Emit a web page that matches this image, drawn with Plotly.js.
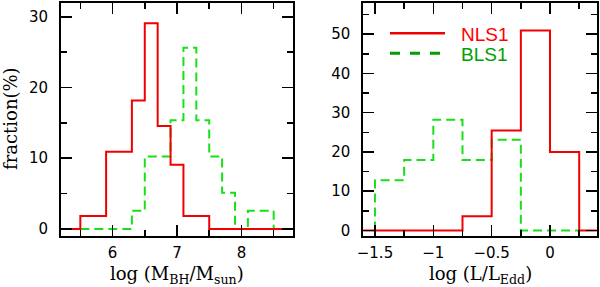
<!DOCTYPE html>
<html>
<head>
<meta charset="utf-8">
<script src="https://cdn.plot.ly/plotly-3.0.1.min.js"></script>
<style>html,body{margin:0;padding:0;background:#fff;}#chart{width:600px;height:287px;}</style>
</head>
<body>
<div id="chart"></div>
<script>
// ---- Data (fraction in %) ----
// Left panel: log(M_BH/M_sun) histograms, bin left edges (last = closing edge)
const massNLS_x = [5.1, 5.5, 5.7, 5.9, 6.1, 6.3, 6.5, 6.7, 6.9, 7.1, 7.3, 7.5, 8.9];
const massNLS_y = [0, 1.82, 1.82, 10.91, 10.91, 18.18, 29.09, 14.55, 9.09, 1.82, 1.82, 0, 0];
const massBLS_x = [5.5, 6.3, 6.5, 6.7, 6.9, 7.1, 7.3, 7.5, 7.7, 7.9, 8.1, 8.3, 8.5];
const massBLS_y = [0, 2.56, 10.26, 10.26, 15.38, 25.64, 15.38, 10.26, 5.13, 0, 2.56, 2.56, 0];
// Right panel: log(L/L_Edd) histograms
const eddNLS_x = [-1.75, -0.75, -0.5, -0.25, 0, 0.25, 0.5];
const eddNLS_y = [0, 3.64, 25.45, 50.91, 20.0, 0, 0];
const eddBLS_x = [-1.5, -1.5, -1.25, -1.0, -0.75, -0.5, -0.25, 0.25];
const eddBLS_y = [0, 12.82, 17.95, 28.21, 17.95, 23.08, 0, 0];

const seriesNames = ['NLS1', 'BLS1'];
const massTicks = [6, 7, 8];
const massTickText = ['6', '7', '8'];
const fracTicksL = [0, 10, 20, 30];
const eddTicks = [-1.5, -1, -0.5, 0];
const eddTickText = ['\u22121.5', '\u22121', '\u22120.5', '0'];
const fracTicksR = [0, 10, 20, 30, 40, 50];

const RED = '#f00000', GREEN = '#18e018';
const LEG_GREEN = '#00a000';

const greenLine = {color: GREEN, width: 2, shape: 'hv', dash: '9px,5px'};
const redLine = {color: RED, width: 2, shape: 'hv'};

const traces = [
  {x: massBLS_x, y: massBLS_y, xaxis: 'x', yaxis: 'y', mode: 'lines', line: greenLine, name: seriesNames[1], showlegend: false},
  {x: massNLS_x, y: massNLS_y, xaxis: 'x', yaxis: 'y', mode: 'lines', line: redLine, name: seriesNames[0], showlegend: false},
  {x: eddBLS_x, y: eddBLS_y, xaxis: 'x2', yaxis: 'y2', mode: 'lines', line: greenLine, name: seriesNames[1], showlegend: false},
  {x: eddNLS_x, y: eddNLS_y, xaxis: 'x2', yaxis: 'y2', mode: 'lines', line: redLine, name: seriesNames[0], showlegend: false}
];

const tickFont = {family: 'DejaVu Sans', size: 15, color: '#000'};
function axis(extra) {
  return Object.assign({
    showline: true, linecolor: '#000', linewidth: 2, mirror: 'allticks',
    ticks: 'inside', ticklen: 11, tickwidth: 1.5, tickcolor: '#000',
    showgrid: false, zeroline: false, automargin: false, fixedrange: true,
    tickfont: tickFont, tickmode: 'array', ticklabelstandoff: 8
  }, extra);
}

const W = 600, H = 287;
const px = v => v / W, py = v => 1 - v / H;

const titleFont = {family: 'DejaVu Serif', size: 18, color: '#000'};

const layout = {
  width: W, height: H,
  margin: {l: 0, r: 0, t: 0, b: 0},
  paper_bgcolor: '#fff', plot_bgcolor: '#fff',
  showlegend: false,
  xaxis: axis({domain: [px(61), px(293)], range: [5.2, 8.8], tickvals: massTicks, ticktext: massTickText, ticklabelstandoff: 2,
    minor: {dtick: 0.5, tick0: 5, ticks: 'inside', ticklen: 6, tickwidth: 1.5, tickcolor: '#000'}, anchor: 'y'}),
  yaxis: axis({domain: [py(236), py(2.7)], range: [-1, 32], tickvals: fracTicksL, ticktext: fracTicksL.map(String),
    minor: {dtick: 5, tick0: 0, ticks: 'inside', ticklen: 6, tickwidth: 1.5, tickcolor: '#000'}, anchor: 'x'}),
  xaxis2: axis({domain: [px(363.3), px(596.7)], range: [-1.6, 0.4], tickvals: eddTicks, ticktext: eddTickText, ticklabelstandoff: 2,
    minor: {dtick: 0.25, tick0: 0, ticks: 'inside', ticklen: 6, tickwidth: 1.5, tickcolor: '#000'}, anchor: 'y2'}),
  yaxis2: axis({domain: [py(236), py(2.7)], range: [-1.4, 58], tickvals: fracTicksR, ticktext: fracTicksR.map(String),
    minor: {dtick: 5, tick0: 0, ticks: 'inside', ticklen: 6, tickwidth: 1.5, tickcolor: '#000'}, anchor: 'x2'}),
  shapes: [
    {type: 'line', xref: 'paper', yref: 'paper', x0: px(390), x1: px(445), y0: py(33.3), y1: py(33.3), line: {color: RED, width: 2.5}},
    {type: 'line', xref: 'paper', yref: 'paper', x0: px(390), x1: px(440), y0: py(53.3), y1: py(53.3), line: {color: LEG_GREEN, width: 3, dash: '10px,10px'}}
  ],
  annotations: [
    {text: seriesNames[0], xref: 'paper', yref: 'paper', x: px(459), y: py(34.5), xanchor: 'left', yanchor: 'middle', showarrow: false,
      font: {family: 'Liberation Sans', size: 19, color: '#ff0000'}},
    {text: seriesNames[1], xref: 'paper', yref: 'paper', x: px(459), y: py(54.5), xanchor: 'left', yanchor: 'middle', showarrow: false,
      font: {family: 'Liberation Sans', size: 19, color: LEG_GREEN}},
    {text: 'fraction(%)', xref: 'paper', yref: 'paper', x: px(11), y: py(119), xanchor: 'center', yanchor: 'middle', textangle: -90, showarrow: false, font: titleFont},
    {text: 'log (M<sub>BH</sub>/M<sub>sun</sub>)', xref: 'paper', yref: 'paper', x: px(177), y: py(275), xanchor: 'center', yanchor: 'middle', showarrow: false, font: titleFont},
    {text: 'log (L/L<sub>Edd</sub>)', xref: 'paper', yref: 'paper', x: px(480), y: py(275), xanchor: 'center', yanchor: 'middle', showarrow: false, font: titleFont}
  ]
};

Plotly.newPlot('chart', traces, layout, {displayModeBar: false, staticPlot: true});
</script>
</body>
</html>
